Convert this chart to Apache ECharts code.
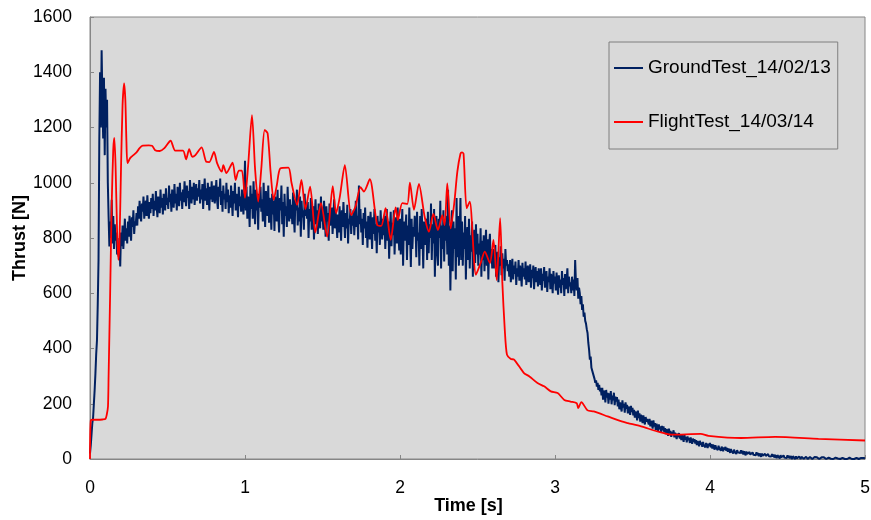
<!DOCTYPE html>
<html>
<head>
<meta charset="utf-8">
<script src="https://cdn.jsdelivr.net/npm/echarts@6/dist/echarts.min.js"></script>
<style>
html,body{margin:0;padding:0;background:#fff;}
#chart{width:871px;height:520px;}
</style>
</head>
<body>
<div id="chart"></div>
<script>
// X axis ticks and Y axis ticks
const xTicks = [0, 1, 2, 3, 4, 5];
const yTicks = [0, 200, 400, 600, 800, 1000, 1200, 1400, 1600];
const seriesNames = ['GroundTest_14/02/13', 'FlightTest_14/03/14'];

// Ground test: thrust [N] recorded every 0.005 s from t = 0 (each row = 0.1 s)
const groundStart = 0;
const groundStep = 0.005;
const groundThrust = [
  20,50,90,130,150, 200,250,310,380,430, 560,720,1150,1400,1200, 1480,1300,1160,1380,1100,
  1340,1200,1300,1000,877, 769,860,800,938,780, 880,760,850,790,820, 740,760,733,800,697,
  820,770,845,760,810, 870,790,835,780,860, 805,880,825,790,875, 840,900,815,860,845,
  890,845,915,870,935, 880,860,925,895,950, 870,905,935,880,955, 900,870,930,890,945,
  905,960,880,935,900, 970,915,875,950,925, 890,975,910,945,885, 960,930,900,980,920,
  945,905,990,930,960, 895,975,940,910,995, 925,960,900,985,945, 915,1000,935,965,905,
  975,930,1005,950,915, 990,945,970,905,1010, 960,925,985,940,1000, 920,965,995,935,980,
  950,1010,925,975,940, 995,905,965,1015,935, 980,920,1000,955,900, 985,940,1005,930,965,
  990,925,960,1010,935, 905,985,950,1015,920, 970,895,990,940,960, 905,1000,930,975,890,
  955,910,990,935,880, 970,925,1000,900,960, 940,875,985,915,950, 895,975,930,885,960,
  1080,900,985,870,950, 925,840,990,905,960, 870,1005,925,850,975, 900,945,830,960,910,
  985,895,940,860,1000, 915,840,970,925,880, 990,855,945,905,830, 960,885,935,825,950,
  915,860,975,880,820, 945,900,990,850,930, 805,960,880,915,840, 985,895,860,940,870,
  920,850,965,880,820, 940,900,975,845,910, 860,950,805,935,875, 900,830,960,880,915,
  870,930,800,905,860, 945,830,890,915,795, 880,940,850,900,815, 925,870,835,950,860,
  900,830,935,870,805, 915,860,890,790,925, 845,880,910,815,870, 940,835,895,860,800,
  885,820,915,855,790, 900,840,930,865,800, 890,835,920,780,870, 850,905,815,880,845,
  900,810,870,935,840, 880,795,990,850,905, 820,870,775,890,835, 910,800,860,765,880,
  850,795,895,830,760, 875,815,905,790,850, 745,880,820,860,775, 900,830,795,870,810,
  880,760,845,905,790, 860,725,830,895,770, 855,810,900,740,840, 875,780,910,815,755,
  870,740,835,905,700, 860,790,830,885,720, 845,775,910,810,695, 870,760,840,805,880,
  850,730,895,790,820, 700,880,760,905,815, 690,860,775,835,870, 720,895,745,850,800,
  925,720,850,780,905, 660,830,880,740,700, 870,800,935,690,845, 760,900,715,860,790,
  880,740,975,700,845, 610,790,900,680,860, 760,835,650,945,730, 880,700,820,945,720,
  860,700,820,760,880, 650,800,840,720,870, 690,810,750,860,660, 795,830,710,850,740,
  815,700,780,740,835, 660,790,720,810,680, 760,830,700,795,650, 770,815,715,760,690,
  760,690,740,775,660, 720,750,640,730,700, 770,665,745,690,725, 645,760,700,720,680,
  705,660,720,640,690, 725,650,700,670,715, 630,690,660,720,645, 700,675,625,710,660,
  690,650,715,630,680, 700,640,665,705,620, 685,655,700,615,670, 695,640,680,625,690,
  665,630,690,610,670, 645,695,620,655,680, 605,660,640,690,615, 670,650,600,680,635,
  660,610,675,635,595, 665,620,650,600,680, 630,655,590,670,615, 645,690,600,660,625,
  640,600,660,610,650, 590,720,640,610,655, 580,620,600,560,590, 540,560,515,530,500,
  490,470,456,420,395, 360,371,330,323,310, 300,290,276,285,262, 276,250,268,245,258,
  230,258,215,248,236, 205,250,222,240,200, 238,215,246,198,230, 212,240,195,226,208,
  224,190,215,180,205, 198,172,212,186,200, 168,205,182,196,165, 190,178,160,192,170,
  185,158,178,150,172, 162,140,175,148,165, 135,160,150,130,158, 142,125,152,135,145,
  150,125,145,118,138, 130,110,140,118,130, 105,128,112,100,125, 108,118,96,120,104,
  118,96,112,90,108, 100,84,110,92,102, 80,98,88,104,78, 95,85,72,92,80,
  94,74,90,68,86, 78,62,88,70,80, 60,82,68,76,58, 78,66,55,74,62,
  72,56,68,50,65, 58,46,66,52,60, 44,62,50,57,42, 58,48,40,55,46,
  58,42,54,38,52, 45,34,50,40,46, 32,48,38,44,30, 45,36,28,42,34,
  44,30,40,26,38, 32,22,36,28,33, 20,34,26,30,18, 32,24,17,30,22,
  32,20,30,16,28, 22,13,27,18,24, 12,25,16,22,11, 24,15,10,21,14,
  24,14,22,10,20, 15,8,20,12,18, 7,19,11,16,6, 18,10,5,16,9,
  18,8,16,5,15, 10,3,14,7,13, 2,14,6,12,2, 13,5,1,12,4,
  13,4,12,2,11, 6,0,10,3,10, 0,10,2,9,0, 9,2,0,8,1,
  9,1,8,0,8, 3,0,7,1,7, 0,7,0,6,0, 7,1,0,6,0,
  7,0,6,0,6, 2,0,6,0,5, 0,6,0,5,0, 5,1,0,5,0,
  6,0,5,0,5, 2,0,5,0,5, 0,4,0,5,0, 4,1,0,4,0,
  5,0,5,0,4, 2,0,4,0,4, 0,4,0,4,0, 4,1,0,4,0,
  3
];

// Flight test: time [s] and thrust [N]
const flightTime = [
  0, 0.005, 0.02, 0.05, 0.08, 0.1, 0.108, 0.116, 0.12, 0.13, 0.14, 0.15, 0.157, 0.165, 0.175, 0.183,
  0.19, 0.2, 0.21, 0.22, 0.228, 0.235, 0.242, 0.26, 0.28, 0.3, 0.32, 0.34, 0.38, 0.4, 0.42, 0.45,
  0.48, 0.52, 0.55, 0.6, 0.62, 0.64, 0.66, 0.68, 0.72, 0.75, 0.77, 0.8, 0.82, 0.85, 0.86, 0.88,
  0.92, 0.94, 0.96, 0.98, 1.0, 1.02, 1.045, 1.065, 1.085, 1.105, 1.127, 1.146, 1.165, 1.185, 1.205, 1.228,
  1.28, 1.3, 1.336, 1.364, 1.39, 1.42, 1.454, 1.49, 1.53, 1.566, 1.588, 1.612, 1.644, 1.685, 1.713, 1.745,
  1.767, 1.805, 1.853, 1.879, 1.907, 1.94, 1.972, 1.986, 2.015, 2.047, 2.064, 2.09, 2.122, 2.159, 2.187, 2.215,
  2.245, 2.273, 2.288, 2.305, 2.327, 2.35, 2.37, 2.39, 2.4, 2.41, 2.43, 2.45, 2.49, 2.52, 2.547, 2.58,
  2.603, 2.624, 2.646, 2.66, 2.676, 2.69, 2.715, 2.736, 2.8, 2.835, 2.887, 2.93, 2.973, 3.017, 3.06, 3.1,
  3.14, 3.15, 3.17, 3.21, 3.25, 3.34, 3.43, 3.47, 3.555, 3.66, 3.75, 3.94, 3.99, 4.2, 4.42, 4.7, 5.0
];
const flightThrust = [
  0, 140, 142, 142, 143, 145, 160, 190, 300, 600, 920, 1120, 1162, 1060, 820, 721,
  780, 1050, 1280, 1360, 1300, 1150, 1071, 1090, 1100, 1110, 1125, 1134, 1135, 1134, 1118, 1115,
  1125, 1152, 1116, 1116, 1085, 1122, 1094, 1100, 1128, 1076, 1075, 1112, 1071, 1040, 1064, 1035,
  1073, 1010, 1044, 1044, 945, 1060, 1245, 1050, 932, 1050, 1191, 1179, 1040, 938, 990, 1052,
  1055, 1000, 920, 1010, 905, 986, 820, 926, 805, 988, 890, 950, 1064, 883, 914, 984,
  968, 1013, 847, 844, 908, 793, 911, 865, 926, 923, 1000, 902, 996, 877, 823, 887,
  829, 883, 847, 998, 835, 926, 1040, 1105, 1110, 1105, 908, 932, 667, 709, 751, 709,
  793, 648, 872, 642, 468, 378, 362, 360, 311, 299, 275, 263, 245, 239, 214, 208,
  202, 184, 206, 176, 172, 154, 136, 130, 118, 100, 88, 91, 84, 76, 80, 73, 67
];

const groundData = groundThrust.map((v, i) => [+(groundStart + i * groundStep).toFixed(3), v]);
const flightData = flightTime.map((t, i) => [t, flightThrust[i]]);

const FONT = '"Liberation Sans", Arial, sans-serif';
const chart = echarts.init(document.getElementById('chart'), null, {renderer: 'canvas'});
chart.setOption({
  animation: false,
  backgroundColor: '#ffffff',
  grid: {
    left: 90, right: 6, top: 17, bottom: 61,
    containLabel: false, outerBoundsMode: 'none',
    show: true, backgroundColor: '#D9D9D9', borderColor: '#868686', borderWidth: 1
  },
  legend: {
    data: seriesNames,
    orient: 'vertical',
    left: 609, top: 42,
    padding: [16, 7, 17, 5],
    itemGap: 34,
    itemWidth: 29, itemHeight: 2,
    icon: 'rect',
    backgroundColor: '#D9D9D9',
    borderColor: '#7F7F7F', borderWidth: 1,
    textStyle: {fontFamily: FONT, fontSize: 19, color: '#000', lineHeight: 20, padding: [0, 0, 0, 0]}
  },
  xAxis: {
    type: 'value', min: xTicks[0], max: xTicks[xTicks.length - 1], interval: 1,
    name: 'Time [s]', nameLocation: 'middle', nameGap: 38, nameMoveOverlap: false,
    nameTextStyle: {fontFamily: FONT, fontSize: 18, fontWeight: 'bold', color: '#000', padding: [0, 18, 0, 0]},
    axisLine: {show: true, onZero: false, lineStyle: {color: '#868686', width: 1}},
    axisTick: {show: true, inside: true, length: 4, lineStyle: {color: '#868686'}},
    axisLabel: {fontFamily: FONT, fontSize: 17.5, color: '#000', margin: 20, formatter: (v) => String(v)},
    splitLine: {show: false}
  },
  yAxis: {
    type: 'value', min: yTicks[0], max: yTicks[yTicks.length - 1], interval: 200,
    name: 'Thrust [N]', nameLocation: 'middle', nameGap: 61, nameRotate: 90, nameMoveOverlap: false,
    nameTextStyle: {fontFamily: FONT, fontSize: 18, fontWeight: 'bold', color: '#000'},
    axisLine: {show: true, lineStyle: {color: '#868686', width: 1}},
    axisTick: {show: true, inside: true, length: 4, lineStyle: {color: '#868686'}},
    axisLabel: {fontFamily: FONT, fontSize: 17.5, color: '#000', margin: 18, formatter: (v) => String(v)},
    splitLine: {show: false}
  },
  series: [
    {
      name: seriesNames[0], type: 'line', data: groundData,
      showSymbol: false, symbol: 'none', sampling: null,
      lineStyle: {color: '#002060', width: 2},
      itemStyle: {color: '#002060'}
    },
    {
      name: seriesNames[1], type: 'line', data: flightData,
      showSymbol: false, symbol: 'none', smooth: 0.25,
      lineStyle: {color: '#FF0000', width: 1.8},
      itemStyle: {color: '#FF0000'}
    }
  ]
});
</script>
</body>
</html>
